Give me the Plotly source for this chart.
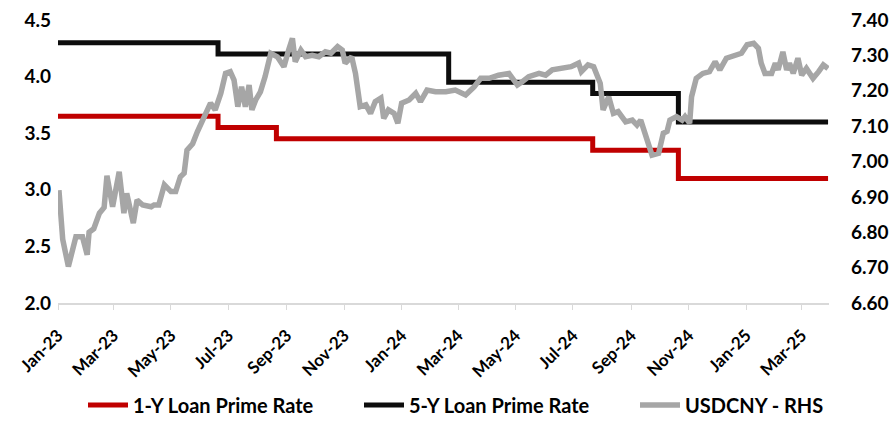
import plotly.graph_objects as go

# Loan Prime Rate change dates and levels (step series)
lpr1_dates = ["2023-01-01", "2023-06-20", "2023-08-21", "2024-07-22", "2024-10-21", "2025-03-29"]
lpr1_vals = [3.65, 3.55, 3.45, 3.35, 3.10, 3.10]
lpr5_dates = ["2023-01-01", "2023-06-20", "2024-02-20", "2024-07-22", "2024-10-21", "2025-03-29"]
lpr5_vals = [4.30, 4.20, 3.95, 3.85, 3.60, 3.60]

# USDCNY (right axis)
fx_dates = [
    "2023-01-02", "2023-01-06", "2023-01-12", "2023-01-20", "2023-01-27", "2023-02-01", "2023-02-03",
    "2023-02-08", "2023-02-14", "2023-02-19", "2023-02-22", "2023-02-28", "2023-03-07", "2023-03-12",
    "2023-03-15", "2023-03-22", "2023-03-26", "2023-04-01", "2023-04-10", "2023-04-13", "2023-04-18",
    "2023-04-24", "2023-05-01", "2023-05-06", "2023-05-11", "2023-05-15", "2023-05-18", "2023-05-24",
    "2023-05-29", "2023-06-05", "2023-06-12", "2023-06-17", "2023-06-23", "2023-06-28", "2023-07-03",
    "2023-07-07", "2023-07-11", "2023-07-15", "2023-07-19", "2023-07-23", "2023-07-26", "2023-07-30",
    "2023-08-04", "2023-08-09", "2023-08-15", "2023-08-22", "2023-08-29", "2023-09-03", "2023-09-07",
    "2023-09-10", "2023-09-16", "2023-09-21", "2023-09-28", "2023-10-05", "2023-10-12", "2023-10-18",
    "2023-10-25", "2023-10-30", "2023-11-02", "2023-11-09", "2023-11-13", "2023-11-18", "2023-11-24",
    "2023-11-29", "2023-12-04", "2023-12-10", "2023-12-13", "2023-12-18", "2023-12-24", "2023-12-28",
    "2024-01-01", "2024-01-09", "2024-01-16", "2024-01-21", "2024-01-28", "2024-02-06", "2024-02-17",
    "2024-02-27", "2024-03-09", "2024-03-18", "2024-03-25", "2024-04-03", "2024-04-13", "2024-04-24",
    "2024-05-03", "2024-05-08", "2024-05-15", "2024-05-26", "2024-06-02", "2024-06-09", "2024-06-20",
    "2024-06-29", "2024-07-07", "2024-07-10", "2024-07-17", "2024-07-23", "2024-07-30", "2024-08-02",
    "2024-08-08", "2024-08-13", "2024-08-18", "2024-08-26", "2024-09-02", "2024-09-07", "2024-09-11",
    "2024-09-18", "2024-09-23", "2024-09-30", "2024-10-05", "2024-10-09", "2024-10-12", "2024-10-19",
    "2024-10-25", "2024-10-28", "2024-11-02", "2024-11-04", "2024-11-09", "2024-11-16", "2024-11-23",
    "2024-11-29", "2024-12-04", "2024-12-11", "2024-12-20", "2024-12-27", "2025-01-02", "2025-01-09",
    "2025-01-14", "2025-01-17", "2025-01-21", "2025-01-28", "2025-02-01", "2025-02-04", "2025-02-09",
    "2025-02-13", "2025-02-16", "2025-02-20", "2025-02-25", "2025-03-01", "2025-03-06", "2025-03-13",
    "2025-03-19", "2025-03-24", "2025-03-29",
]
fx_vals = [
    6.919, 6.780, 6.703, 6.787, 6.787, 6.736, 6.800,
    6.810, 6.854, 6.870, 6.960, 6.872, 6.971, 6.854,
    6.910, 6.826, 6.891, 6.877, 6.872, 6.877, 6.877,
    6.934, 6.915, 6.915, 6.957, 6.967, 7.032, 7.050,
    7.084, 7.127, 7.165, 7.146, 7.193, 7.249, 7.254,
    7.230, 7.155, 7.211, 7.155, 7.216, 7.146, 7.174,
    7.197, 7.240, 7.306, 7.296, 7.268, 7.315, 7.348,
    7.282, 7.315, 7.296, 7.300, 7.296, 7.310, 7.306,
    7.325, 7.315, 7.278, 7.296, 7.249, 7.155, 7.160,
    7.136, 7.169, 7.179, 7.122, 7.146, 7.136, 7.108,
    7.165, 7.174, 7.193, 7.169, 7.202, 7.197, 7.197,
    7.202, 7.188, 7.211, 7.235, 7.235, 7.244, 7.249,
    7.216, 7.225, 7.240, 7.249, 7.244, 7.259, 7.263,
    7.268, 7.278, 7.254, 7.273, 7.268, 7.221, 7.146,
    7.183, 7.136, 7.141, 7.112, 7.117, 7.103, 7.117,
    7.061, 7.018, 7.023, 7.080, 7.085, 7.117, 7.127,
    7.117, 7.127, 7.108, 7.183, 7.235, 7.249, 7.254,
    7.282, 7.259, 7.292, 7.300, 7.306, 7.330, 7.334,
    7.320, 7.278, 7.249, 7.249, 7.278, 7.259, 7.310,
    7.259, 7.278, 7.249, 7.292, 7.244, 7.263, 7.235,
    7.254, 7.273, 7.263,
]

FONT = "Lato"

fig = go.Figure()
fig.add_trace(go.Scatter(x=lpr1_dates, y=lpr1_vals, name="1-Y Loan Prime Rate", mode="lines",
                         legend="legend", line=dict(color="#C00000", width=5, shape="hv")))
fig.add_trace(go.Scatter(x=lpr5_dates, y=lpr5_vals, name="5-Y Loan Prime Rate", mode="lines",
                         legend="legend2", line=dict(color="#0D0D0D", width=5, shape="hv")))
fig.add_trace(go.Scatter(x=fx_dates, y=fx_vals, name="USDCNY - RHS", mode="lines", yaxis="y2",
                         legend="legend3", line=dict(color="#A6A6A6", width=5.5)))

legend_font = dict(family=FONT, size=20, color="#000000", weight="bold")
def leg(xpx):
    return dict(orientation="h", xref="container", yref="container",
                x=xpx / 889, xanchor="left", y=0.0625, yanchor="middle",
                font=legend_font, itemwidth=40, bgcolor="rgba(0,0,0,0)")

fig.update_layout(
    width=889, height=432,
    margin=dict(l=58, r=60, t=20, b=129),
    paper_bgcolor="white", plot_bgcolor="white",
    font=dict(family=FONT, size=16, color="#000000"),
    showlegend=True,
    legend=leg(83), legend2=leg(359), legend3=leg(635),
    xaxis=dict(type="date", range=["2023-01-01", "2025-03-30"], tick0="2023-01-01", dtick="M2",
               tickformat="%b-%y", tickangle=-45, showgrid=False, showline=True, automargin=False,
               linecolor="#D9D9D9", linewidth=1.5, ticks="outside", ticklen=5, tickcolor="#D9D9D9",
               ticklabelstandoff=9,
               tickfont=dict(family=FONT, size=17, color="#000000", weight="bold"), zeroline=False),
    yaxis=dict(range=[2.0, 4.5], dtick=0.5, tickformat=".1f", showgrid=False, zeroline=False,
               automargin=False, ticklabelstandoff=6,
               showline=False, ticks="", tickfont=dict(family=FONT, size=19, color="#000000", weight="bold")),
    yaxis2=dict(range=[6.6, 7.4], dtick=0.1, tickformat=".2f", overlaying="y", side="right",
                showgrid=False, zeroline=False, showline=False, ticks="", automargin=False,
                ticklabelstandoff=21,
                tickfont=dict(family=FONT, size=19, color="#000000", weight="bold")),
)

fig.write_html("out.html")
